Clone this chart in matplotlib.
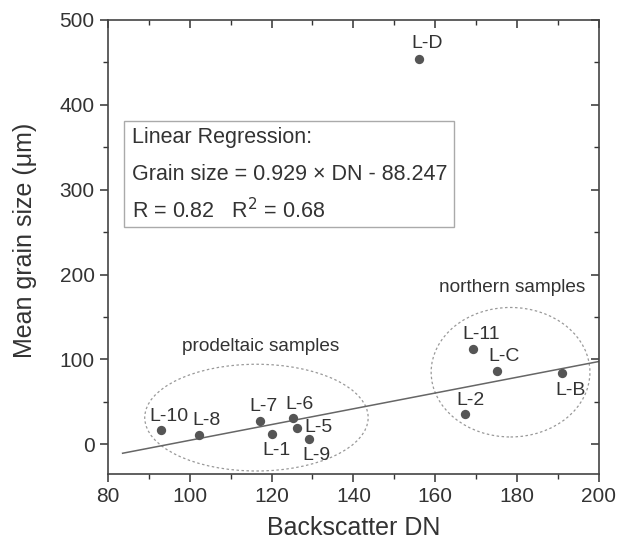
import matplotlib
matplotlib.use("Agg")
import matplotlib.pyplot as plt
from matplotlib.patches import Ellipse, Rectangle
from matplotlib.ticker import MultipleLocator
import numpy as np

plt.rcParams['font.family'] = ['Liberation Sans', 'DejaVu Sans']

labels = ["L-D", "L-10", "L-8", "L-7", "L-1", "L-6", "L-5", "L-9", "L-2", "L-11", "L-C", "L-B"]
dn = [156.1, 93.1, 102.3, 117.2, 120.1, 125.2, 126.3, 129.2, 167.2, 169.2, 175.0, 190.9]
grain = [453.6, 16.5, 11.4, 27.9, 12.2, 31.0, 19.2, 5.9, 35.8, 112.0, 86.9, 83.4]
label_pos = [(157.9, 472), (94.9, 32.2), (104.0, 27.5), (118.0, 44), (121.2, -7.9),
             (126.9, 47.2), (131.4, 19.2), (130.9, -13), (168.5, 51.9), (171.2, 129.7),
             (176.8, 103), (193.0, 63.7)]

slope, intercept = 0.929, -88.247
fit_x = [83.6, 200.0]
box_lines = ["Linear Regression:", "Grain size = 0.929 × DN - 88.247", "R = 0.82   R$^{2}$ = 0.68"]

tc = '#333333'
fig = plt.figure(figsize=(6.2, 5.55), dpi=100)
ax = fig.add_axes([0.174, 0.146, 0.792, 0.818])

fx = np.array(fit_x)
ax.plot(fx, slope * fx + intercept, color='#666666', lw=1.1, zorder=2)
ax.scatter(dn, grain, s=45, color='#555555', zorder=3, linewidths=0)
for lab, (tx, ty) in zip(labels, label_pos):
    ax.text(tx, ty, lab, ha='center', va='center', fontsize=14, color=tc)

ax.add_patch(Ellipse((116.3, 31.4), 54.6, 125.8, fill=False, ls=(0, (2, 2)), ec='#999999', lw=0.9))
ax.add_patch(Ellipse((178.4, 84.9), 38.8, 152.6, fill=False, ls=(0, (2, 2)), ec='#999999', lw=0.9))
ax.text(117.4, 114.7, "prodeltaic samples", ha='center', va='center', fontsize=13.7, color=tc)
ax.text(178.7, 184.5, "northern samples", ha='center', va='center', fontsize=13.7, color=tc)

# regression box
ax.add_patch(Rectangle((83.9, 255.9), 164.6 - 83.9, 380.9 - 255.9, fill=False, ec='#aaaaaa', lw=1, zorder=2))
for line, yy in zip(box_lines, [362, 318.4, 274.8]):
    ax.text(85.9, yy, line, ha='left', va='center', fontsize=15.5, color=tc)

ax.set_xlim(80, 200)
ax.set_ylim(-35, 500)
ax.xaxis.set_major_locator(MultipleLocator(20))
ax.xaxis.set_minor_locator(MultipleLocator(10))
ax.yaxis.set_major_locator(MultipleLocator(100))
ax.yaxis.set_minor_locator(MultipleLocator(50))
ax.tick_params(which='both', direction='out', top=False, right=False, colors='#333333', labelsize=15, labelcolor=tc)
ax.tick_params(which='major', length=6, width=1.1)
ax.tick_params(which='minor', length=3.5, width=1.0)
for s in ax.spines.values():
    s.set_color('#444444')
    s.set_linewidth(1.2)

axt = ax.secondary_xaxis('top')
axt.xaxis.set_major_locator(MultipleLocator(20))
axt.xaxis.set_minor_locator(MultipleLocator(10))
axt.tick_params(which='both', direction='in', labeltop=False, colors='#333333')
axt.tick_params(which='major', length=6, width=1.1)
axt.tick_params(which='minor', length=3.5, width=1.0)
axt.spines['top'].set_visible(False)
axr = ax.secondary_yaxis('right')
axr.yaxis.set_major_locator(MultipleLocator(100))
axr.yaxis.set_minor_locator(MultipleLocator(50))
axr.tick_params(which='both', direction='in', labelright=False, colors='#333333')
axr.tick_params(which='major', length=6, width=1.1)
axr.tick_params(which='minor', length=3.5, width=1.0)
axr.spines['right'].set_visible(False)

ax.set_xlabel("Backscatter DN", fontsize=18, color=tc, labelpad=7)
ax.set_ylabel("Mean grain size (μm)", fontsize=18, color=tc, labelpad=13)
ax.yaxis.set_label_coords(-0.145, 0.515)

fig.savefig("out.png", dpi=100)
